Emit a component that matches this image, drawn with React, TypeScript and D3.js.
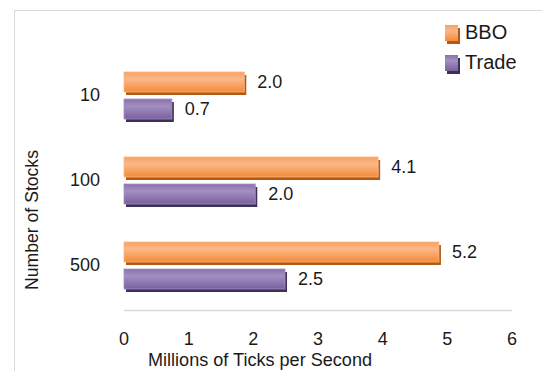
import * as d3 from "d3";

// Number of stocks (top to bottom)
const categories = ["10", "100", "500"];
const series = ["BBO", "Trade"];
// bar lengths as drawn, and the labels printed next to them
const bboValues = [1.86, 3.93, 4.87];
const tradeValues = [0.74, 2.03, 2.49];
const bboLabels = ["2.0", "4.1", "5.2"];
const tradeLabels = ["0.7", "2.0", "2.5"];
const xTicks = [0, 1, 2, 3, 4, 5, 6];

const W = 542;
const H = 371;
const FONT = "'Liberation Sans', Arial, sans-serif";

const colors: Record<string, { top: string; mid: string; bot: string; shadow: string }> = {
  BBO: { top: "#f8a160", mid: "#fbb889", bot: "#f48a38", shadow: "#b35a12" },
  Trade: { top: "#8a70ab", mid: "#a390c2", bot: "#7b5f9e", shadow: "#3e3157" },
};

export default function App() {
  const x = d3.scaleLinear().domain([0, 6]).range([124, 512]);
  const y = d3.scaleBand().domain(categories).range([54, 309]).padding(0);
  const inner = d3.scaleBand().domain(series).range([18, 65]).paddingInner(0.26);

  const rows = categories.map((c, i) => ({
    c,
    bars: [
      { s: "BBO", v: bboValues[i], label: bboLabels[i] },
      { s: "Trade", v: tradeValues[i], label: tradeLabels[i] },
    ],
  }));

  return (
    <svg width={W} height={H} style={{ position: "absolute", left: 0, top: 0, background: "#fff" }}>
      <defs>
        {series.map((s) => (
          <linearGradient key={s} id={`g-${s}`} x1="0" x2="0" y1="0" y2="1">
            <stop offset="0" stopColor={colors[s].top} />
            <stop offset="0.35" stopColor={colors[s].mid} />
            <stop offset="1" stopColor={colors[s].bot} />
          </linearGradient>
        ))}
      </defs>

      {/* chart frame */}
      <line x1={14.5} x2={14.5} y1={10} y2={H} stroke="#d9d9d9" />
      <line x1={14} x2={W} y1={10.5} y2={10.5} stroke="#d9d9d9" />

      {/* axis baseline */}
      <line x1={x(0)} x2={x(6)} y1={310.5} y2={310.5} stroke="#d9d9d9" strokeWidth={1.5} />

      {rows.map((r) =>
        r.bars.map((b) => {
          const top = (y(r.c) ?? 0) + (inner(b.s) ?? 0);
          const h = inner.bandwidth();
          const w = x(b.v) - x(0);
          return (
            <g key={r.c + b.s}>
              <rect x={x(0) + 2} y={top + 3} width={w} height={h} fill={colors[b.s].shadow} />
              <rect x={x(0)} y={top} width={w} height={h} fill={`url(#g-${b.s})`} stroke={colors[b.s].mid} strokeWidth={0.8} />
              <text
                x={x(b.v) + 13}
                y={top + h / 2 + 1}
                dominantBaseline="middle"
                fontFamily={FONT}
                fontSize={18}
                fill="#1a1a1a"
              >
                {b.label}
              </text>
            </g>
          );
        })
      )}

      {/* category labels */}
      {categories.map((c) => (
        <text
          key={c}
          x={100}
          y={(y(c) ?? 0) + y.bandwidth() / 2}
          textAnchor="end"
          dominantBaseline="middle"
          fontFamily={FONT}
          fontSize={18}
          fill="#1a1a1a"
        >
          {c}
        </text>
      ))}

      {/* x tick labels */}
      {xTicks.map((t) => (
        <text key={t} x={x(t)} y={340} textAnchor="middle" dominantBaseline="middle" fontFamily={FONT} fontSize={18} fill="#1a1a1a">
          {t}
        </text>
      ))}

      <text x={260} y={366} textAnchor="middle" fontFamily={FONT} fontSize={18} fill="#1a1a1a" textLength={224} lengthAdjust="spacingAndGlyphs">
        Millions of Ticks per Second
      </text>
      <text
        transform="translate(38,220) rotate(-90)"
        textAnchor="middle"
        fontFamily={FONT}
        fontSize={18}
        fill="#1a1a1a"
        textLength={140}
        lengthAdjust="spacingAndGlyphs"
      >
        Number of Stocks
      </text>

      {/* legend */}
      {series.map((s, i) => (
        <g key={s} transform={`translate(445, ${25 + i * 30})`}>
          <rect x={2} y={3} width={13} height={16} fill={colors[s].shadow} />
          <rect x={0} y={0} width={13} height={16} fill={`url(#g-${s})`} />
          <text x={20} y={9} dominantBaseline="middle" fontFamily={FONT} fontSize={20} fill="#1a1a1a">
            {s}
          </text>
        </g>
      ))}
    </svg>
  );
}
